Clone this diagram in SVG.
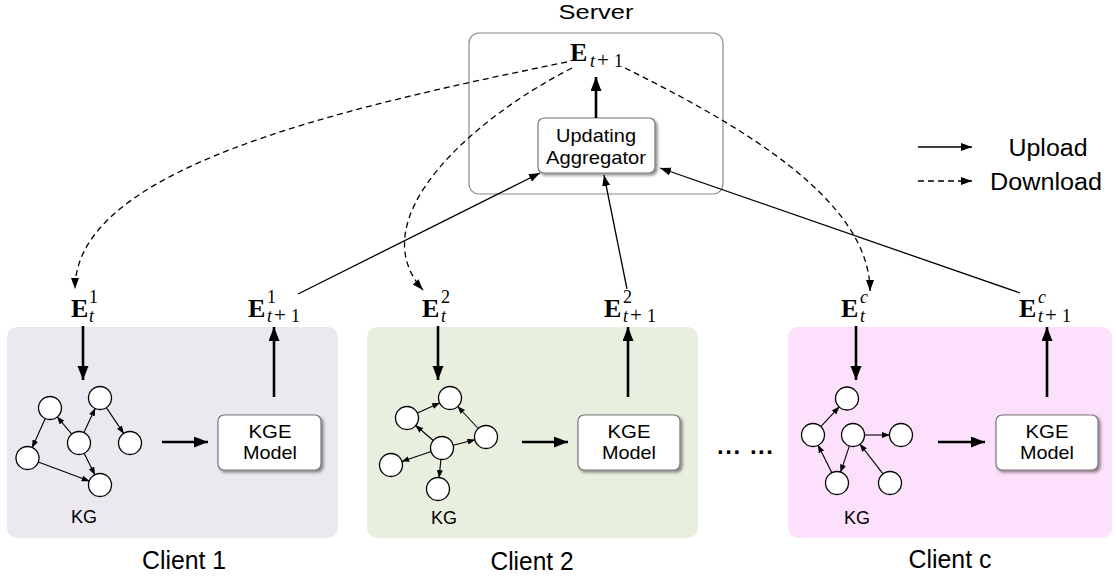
<svg xmlns="http://www.w3.org/2000/svg" width="1116" height="581" viewBox="0 0 1116 581">
<style>
.sans{font-family:"Liberation Sans",Arial,sans-serif;fill:#000}
.bx{fill:#fff;stroke:#777;stroke-width:1.2;filter:url(#sh)}
.node{fill:#fff;stroke:#000;stroke-width:1.3}
.edge{stroke:#000;stroke-width:1.1;fill:none;marker-end:url(#sm)}
.thick{stroke:#000;stroke-width:2.6;fill:none;marker-end:url(#tk)}
.up{stroke:#000;stroke-width:1.3;fill:none;marker-end:url(#tn)}
.dn{stroke:#000;stroke-width:1.3;fill:none;stroke-dasharray:6 4;marker-end:url(#tn)}
.E{font-family:"Liberation Serif","Times New Roman",serif;font-weight:bold;font-size:26px}
.s{font-family:"Liberation Serif","Times New Roman",serif;font-size:18px}
.i{font-style:italic}
.p{font-size:21px}
</style>
<defs>
<filter id="sh" x="-10%" y="-10%" width="130%" height="140%"><feDropShadow dx="2" dy="2" stdDeviation="1.5" flood-color="#000" flood-opacity="0.45"/></filter>
<marker id="sm" markerUnits="userSpaceOnUse" markerWidth="8" markerHeight="6" refX="7.5" refY="3" orient="auto"><path d="M0,0 L8,3 L0,6 z" fill="#000"/></marker>
<marker id="tk" markerUnits="userSpaceOnUse" markerWidth="15" markerHeight="12" refX="14" refY="5.5" orient="auto"><path d="M0,0 L14,5.5 L0,11 z" fill="#000"/></marker>
<marker id="tn" markerUnits="userSpaceOnUse" markerWidth="12" markerHeight="9" refX="11" refY="4" orient="auto"><path d="M0,0 L11,4 L0,8 z" fill="#000"/></marker>
</defs>

<g id="client1">
<rect x="7" y="327" width="331" height="211" rx="10" fill="#ebe8ef"/>
<circle class="node" cx="50" cy="408" r="11.5"/>
<circle class="node" cx="100" cy="398" r="11.5"/>
<circle class="node" cx="79" cy="443" r="11.5"/>
<circle class="node" cx="130" cy="443" r="11.5"/>
<circle class="node" cx="27.5" cy="458" r="11.5"/>
<circle class="node" cx="100" cy="485" r="11.5"/>
<line class="edge" x1="45.3" y1="418.5" x2="32.2" y2="447.5"/>
<line class="edge" x1="71.7" y1="434.2" x2="57.3" y2="416.8"/>
<line class="edge" x1="83.9" y1="432.6" x2="95.1" y2="408.4"/>
<line class="edge" x1="106.4" y1="407.6" x2="123.6" y2="433.4"/>
<line class="edge" x1="84.1" y1="453.3" x2="94.9" y2="474.7"/>
<line class="edge" x1="38.3" y1="462" x2="89.2" y2="481"/>
<text class="sans" x="84" y="523" font-size="18" text-anchor="middle">KG</text>
<rect class="bx" x="218" y="415" width="103" height="55" rx="6"/>
<text class="sans" x="270" y="438" font-size="19" text-anchor="middle" textLength="43" lengthAdjust="spacingAndGlyphs">KGE</text>
<text class="sans" x="270" y="459" font-size="19" text-anchor="middle" textLength="54" lengthAdjust="spacingAndGlyphs">Model</text>
<line class="thick" x1="162" y1="442" x2="208" y2="442"/>
<line class="thick" x1="83" y1="326" x2="83" y2="380"/>
<line class="thick" x1="274" y1="397" x2="274" y2="327"/>
<text class="sans" x="184" y="569" font-size="25" text-anchor="middle" textLength="84" lengthAdjust="spacingAndGlyphs">Client 1</text>
<text class="E" x="71" y="317">E</text><text class="s" x="89" y="303">1</text><text class="s i" x="89" y="322">t</text>
<text class="E" x="248" y="317">E</text><text class="s" x="267" y="303">1</text><text class="s" y="322"><tspan class="i" x="267">t</tspan><tspan class="p" x="274">+</tspan><tspan x="291">1</tspan></text>
</g>

<g id="client2">
<rect x="367" y="327" width="331" height="211" rx="10" fill="#e9efdf"/>
<circle class="node" cx="450" cy="398" r="11.5"/>
<circle class="node" cx="407" cy="418" r="11.5"/>
<circle class="node" cx="442" cy="448" r="11.5"/>
<circle class="node" cx="486" cy="437" r="11.5"/>
<circle class="node" cx="391" cy="465" r="11.5"/>
<circle class="node" cx="438" cy="489" r="11.5"/>
<line class="edge" x1="417.4" y1="413.1" x2="439.6" y2="402.9"/>
<line class="edge" x1="433.3" y1="440.5" x2="415.7" y2="425.5"/>
<line class="edge" x1="478.2" y1="428.5" x2="457.8" y2="406.5"/>
<line class="edge" x1="453.1" y1="445.2" x2="474.9" y2="439.8"/>
<line class="edge" x1="431.1" y1="451.6" x2="401.9" y2="461.4"/>
<line class="edge" x1="440.9" y1="459.4" x2="439.1" y2="477.6"/>
<text class="sans" x="444" y="524" font-size="18" text-anchor="middle">KG</text>
<rect class="bx" x="578" y="415" width="102" height="55" rx="6"/>
<text class="sans" x="629" y="438" font-size="19" text-anchor="middle" textLength="43" lengthAdjust="spacingAndGlyphs">KGE</text>
<text class="sans" x="629" y="459" font-size="19" text-anchor="middle" textLength="54" lengthAdjust="spacingAndGlyphs">Model</text>
<line class="thick" x1="522" y1="442" x2="568" y2="442"/>
<line class="thick" x1="438" y1="326" x2="438" y2="380"/>
<line class="thick" x1="628" y1="397" x2="628" y2="327"/>
<text class="sans" x="532" y="570" font-size="25" text-anchor="middle" textLength="83" lengthAdjust="spacingAndGlyphs">Client 2</text>
<text class="E" x="422" y="317">E</text><text class="s" x="441" y="303">2</text><text class="s i" x="441" y="322">t</text>
<text class="E" x="604" y="317">E</text><text class="s" x="623" y="303">2</text><text class="s" y="322"><tspan class="i" x="623">t</tspan><tspan class="p" x="630">+</tspan><tspan x="647">1</tspan></text>
</g>

<g id="dots">
<text class="sans" x="745" y="454" font-size="24" font-weight="bold" text-anchor="middle" textLength="56" lengthAdjust="spacing">... ...</text>
</g>

<g id="clientc">
<rect x="788" y="327" width="324" height="211" rx="10" fill="#fde0fb"/>
<circle class="node" cx="847" cy="398.5" r="11.5"/>
<circle class="node" cx="813" cy="435" r="11.5"/>
<circle class="node" cx="853" cy="435" r="11.5"/>
<circle class="node" cx="901" cy="435" r="11.5"/>
<circle class="node" cx="837" cy="483" r="11.5"/>
<circle class="node" cx="890" cy="483" r="11.5"/>
<line class="edge" x1="820.8" y1="426.6" x2="839.2" y2="406.9"/>
<line class="edge" x1="831.9" y1="472.7" x2="818.1" y2="445.3"/>
<line class="edge" x1="849.4" y1="445.9" x2="840.6" y2="472.1"/>
<line class="edge" x1="864.5" y1="435" x2="889.5" y2="435"/>
<line class="edge" x1="883" y1="473.9" x2="860" y2="444.1"/>
<text class="sans" x="857" y="524" font-size="18" text-anchor="middle">KG</text>
<rect class="bx" x="996" y="415" width="102" height="55" rx="6"/>
<text class="sans" x="1047" y="438" font-size="19" text-anchor="middle" textLength="43" lengthAdjust="spacingAndGlyphs">KGE</text>
<text class="sans" x="1047" y="459" font-size="19" text-anchor="middle" textLength="54" lengthAdjust="spacingAndGlyphs">Model</text>
<line class="thick" x1="938" y1="442" x2="985" y2="442"/>
<line class="thick" x1="856" y1="326" x2="856" y2="380"/>
<line class="thick" x1="1047" y1="397" x2="1047" y2="327"/>
<text class="sans" x="950" y="568" font-size="25" text-anchor="middle" textLength="83" lengthAdjust="spacingAndGlyphs">Client c</text>
<text class="E" x="841" y="317">E</text><text class="s i" x="860" y="303">c</text><text class="s i" x="860" y="322">t</text>
<text class="E" x="1019" y="317">E</text><text class="s i" x="1038" y="303">c</text><text class="s" y="322"><tspan class="i" x="1038">t</tspan><tspan class="p" x="1045">+</tspan><tspan x="1062">1</tspan></text>
</g>

<g id="server">
<text class="sans" x="596" y="19" font-size="21" text-anchor="middle" textLength="75" lengthAdjust="spacingAndGlyphs">Server</text>
<rect x="469" y="33" width="254" height="161" rx="10" fill="#fff" stroke="#8a8a8a" stroke-width="1.2"/>
<text class="E" x="570" y="61">E</text>
<text class="s" y="67"><tspan class="i" x="590">t</tspan><tspan class="p" x="597">+</tspan><tspan x="614">1</tspan></text>
<rect class="bx" x="538" y="118" width="117" height="55" rx="6"/>
<text class="sans" x="596" y="142" font-size="19" text-anchor="middle" textLength="80" lengthAdjust="spacingAndGlyphs">Updating</text>
<text class="sans" x="596" y="164" font-size="19" text-anchor="middle" textLength="100" lengthAdjust="spacingAndGlyphs">Aggregator</text>
<line class="thick" x1="596" y1="118" x2="596" y2="77"/>
</g>

<g id="connectors">
<line class="up" x1="298" y1="294" x2="540" y2="173"/>
<line class="up" x1="627" y1="289" x2="604" y2="175"/>
<line class="up" x1="1020" y1="293" x2="660" y2="168"/>
<path class="dn" d="M567,62 C330,110 75,170 75,289"/>
<path class="dn" d="M572,68 C470,120 360,220 423,290"/>
<path class="dn" d="M625,68 C740,125 870,200 870,291"/>
</g>

<g id="legend">
<line class="up" x1="918" y1="147" x2="972" y2="147"/>
<line class="dn" x1="918" y1="181" x2="972" y2="181"/>
<text class="sans" x="1048" y="156" font-size="23" text-anchor="middle" textLength="79" lengthAdjust="spacingAndGlyphs">Upload</text>
<text class="sans" x="1046" y="190" font-size="23" text-anchor="middle" textLength="112" lengthAdjust="spacingAndGlyphs">Download</text>
</g>
</svg>
